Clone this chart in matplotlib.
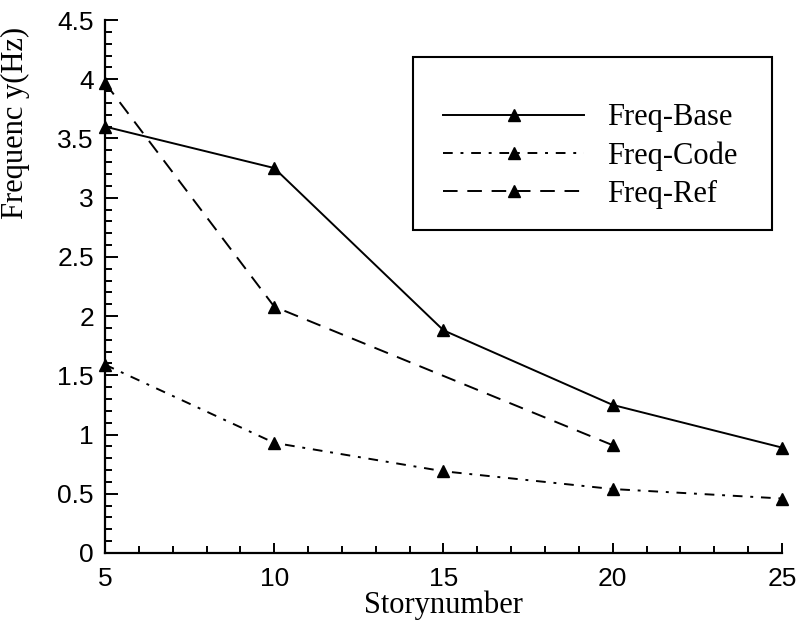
import numpy as np
import matplotlib.pyplot as plt
from matplotlib.patches import Rectangle
from matplotlib.ticker import MultipleLocator

stories = [5, 10, 15, 20, 25]
freq_base = [3.60, 3.25, 1.88, 1.25, 0.89]
freq_code = [1.59, 0.93, 0.69, 0.54, 0.46]
ref_stories = [5, 10, 20]
freq_ref = [3.97, 2.08, 0.91]

serif = 'Liberation Serif'
sans = 'Liberation Sans'

fig = plt.figure(figsize=(8.04, 6.26), dpi=100)
ax = fig.add_axes([105/804, 1-553/626, (782-105)/804, (553-20)/626])

mk = dict(marker='^', ms=8, color='k', clip_on=False)
ax.plot(stories, freq_base, '-', lw=1.4, label='Freq-Base', **mk)
ax.plot(stories, freq_code, lw=1.4, dashes=(5, 4, 1.5, 4), label='Freq-Code', **mk)
ax.plot(ref_stories, freq_ref, lw=1.4, dashes=(7.5, 5), label='Freq-Ref', **mk)

ax.set_xlim(5, 25)
ax.set_ylim(0, 4.5)
ax.xaxis.set_major_locator(MultipleLocator(5))
ax.xaxis.set_minor_locator(MultipleLocator(1))
ax.yaxis.set_minor_locator(MultipleLocator(0.1))
ax.set_yticks(np.arange(0, 4.51, 0.5))
ax.set_yticklabels(['0', '0.5', '1', '1.5', '2', '2.5', '3', '3.5', '4', '4.5'])

for s in ['top', 'right']:
    ax.spines[s].set_visible(False)
for s in ['left', 'bottom']:
    ax.spines[s].set_linewidth(1.6)

ax.tick_params(axis='both', which='both', direction='in', width=1.4, colors='k')
ax.tick_params(axis='y', which='major', length=9, pad=8)
ax.tick_params(axis='y', which='minor', length=5)
ax.tick_params(axis='x', which='major', length=7, pad=10)
ax.tick_params(axis='x', which='minor', length=5)
for lab in ax.get_xticklabels() + ax.get_yticklabels():
    lab.set_fontfamily(sans)
    lab.set_fontsize(19)

ax.set_xlabel('Storynumber', fontfamily=serif, fontsize=22, labelpad=0)
ax.set_ylabel('Frequenc y(Hz)', fontfamily=serif, fontsize=22)
ax.yaxis.set_label_coords(-0.111, 0.807)

# legend box drawn separately so the entries can sit low inside it
fig.add_artist(Rectangle((413/804, 1-230/626), (772-413)/804, (230-57)/626,
                         transform=fig.transFigure, fill=False, lw=1.5, ec='k'))
ax.legend(loc='upper left', bbox_to_anchor=(428/804, 1-88/626),
          bbox_transform=fig.transFigure, frameon=False, borderpad=0,
          handlelength=4.6, handletextpad=0.75, labelspacing=0.3,
          prop={'family': serif, 'size': 22})

fig.savefig('out.png', dpi=100)
